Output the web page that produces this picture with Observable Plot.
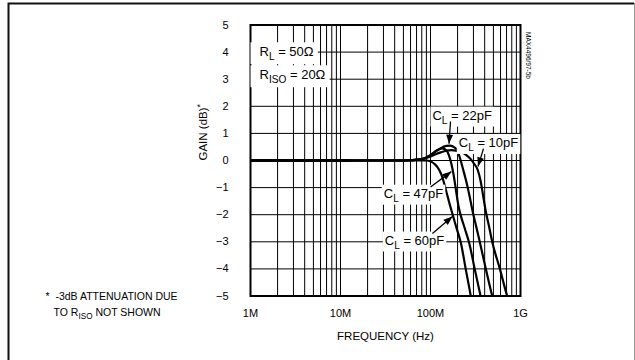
<!DOCTYPE html>
<html><head><meta charset="utf-8">
<script src="https://cdn.jsdelivr.net/npm/d3@7"></script>
<script src="https://cdn.jsdelivr.net/npm/@observablehq/plot@0.6"></script>
<style>
body{margin:0;background:#fff;}
svg{font-family:"Liberation Sans",Arial,Helvetica,sans-serif;}
</style></head><body><div id="chart"></div>
<script>
// ---- data (frequency in MHz, gain in dB) ----
const xTickValues = [1e6, 1e7, 1e8, 1e9];
const xTickLabels = ["1M", "10M", "100M", "1G"];
const yTickValues = [-5, -4, -3, -2, -1, 0, 1, 2, 3, 4, 5];

const curveNames = ["60pF", "47pF", "22pF", "10pF"];
const freq60 = [1, 12, 14, 50, 90, 113, 125, 135, 150, 163, 178, 197, 218, 246, 280, 300];
const gain60 = [-0.015, -0.015, 0, 0, 0, -0.15, -0.35, -0.6, -1.15, -1.6, -2.05, -2.55, -3.05, -4.0, -5.0, -5.6];
const freq47 = [1, 50, 80, 100, 118, 135, 150, 160, 170, 180, 192, 205, 220, 240, 267, 310, 360, 390];
const gain47 = [0, 0, 0.05, 0.2, 0.38, 0.45, 0.38, 0.2, -0.1, -0.5, -1.1, -1.7, -2.1, -2.5, -3.0, -4.0, -5.0, -5.5];
const freq22 = [1, 50, 80, 100, 125, 150, 165, 185, 200, 212, 225, 240, 256, 275, 295, 320, 350, 412, 485, 520];
const gain22 = [0, 0, 0.05, 0.2, 0.42, 0.54, 0.55, 0.48, 0.35, 0.1, -0.2, -0.55, -0.92, -1.4, -1.9, -2.4, -2.95, -4.0, -5.0, -5.4];
const freq10 = [1, 12, 14, 50, 80, 100, 130, 170, 215, 250, 280, 305, 335, 360, 380, 410, 445, 485, 590, 711, 760];
const gain10 = [0.015, 0.015, 0, 0, 0.05, 0.15, 0.3, 0.38, 0.32, 0.2, 0.05, -0.12, -0.35, -0.75, -1.2, -1.85, -2.4, -3.0, -4.0, -5.0, -5.3];

// annotations
const annoText = ["C_L = 22pF", "C_L = 10pF", "C_L = 47pF", "C_L = 60pF"];
const annoFreq = [225, 441, 64.7, 66.4];
const annoGain = [1.66, 0.65, -1.22, -2.95];
const arrowFromFreq = [166.8, 388, 100, 105];
const arrowFromGain = [1.44, 0.44, -0.98, -2.69];
const arrowToFreq = [160.6, 337, 170.6, 175.5];
const arrowToGain = [0.62, -0.22, -0.41, -2.07];

const condText = ["R_L = 50\u03A9", "R_ISO = 20\u03A9"];
const condGain = [4.0, 3.15];
const footText1 = ["*  -3dB ATTENUATION DUE"];
const footText2 = ["TO R_ISO NOT SHOWN"];
const xLabel = ["FREQUENCY (Hz)"];
const yLabel = ["GAIN (dB)^*"];
const figId = ["MAX4496/97-5b"];

// ---- build table ----
const rows = [];
[[freq60, gain60], [freq47, gain47], [freq22, gain22], [freq10, gain10]].forEach(([f, g], k) =>
  f.forEach((v, i) => rows.push({f: v * 1e6, g: g[i], c: curveNames[k]})));

const gridX = [];
for (const base of [1e6, 1e7, 1e8]) for (let k = 1; k <= 9; k++) gridX.push(base * k);
gridX.shift();
const gridY = [-4, -3, -2, -1, 0, 1, 2, 3, 4];
const idx = annoText.map((d, i) => i);

const chart = Plot.plot({
  width: 635, height: 360,
  marginLeft: 250, marginRight: 115, marginTop: 24.5, marginBottom: 64.5,
  x: {type: "log", domain: [1e6, 1e9]},
  y: {domain: [-5, 5]},
  style: {fontFamily: "Liberation Sans, Arial, sans-serif", background: "white", color: "black"},
  marks: [
    Plot.ruleX(gridX, {stroke: "#000", strokeWidth: 1}),
    Plot.ruleY(gridY, {stroke: "#000", strokeWidth: 1}),
    Plot.line(rows, {x: "f", y: "g", z: "c", stroke: "#000", strokeWidth: 2.2, curve: "monotone-x", clip: true}),
    Plot.frame({stroke: "#000", strokeWidth: 2}),
    Plot.axisX(xTickValues, {tickSize: 0, tickPadding: 13, fontSize: 11, tickFormat: d => xTickLabels[xTickValues.indexOf(d)], label: null}),
    Plot.axisY(yTickValues, {tickSize: 0, tickPadding: 22, fontSize: 11, label: null}),
    Plot.text(condText, {x: () => 1e6, y: (d, i) => condGain[i], text: d => d, textAnchor: "start", dx: 9, fontSize: 13, className: "boxedR"}),
    Plot.text(idx, {x: i => annoFreq[i] * 1e6, y: i => annoGain[i], text: i => annoText[i], fontSize: 13, className: "boxed"}),
    Plot.link(idx, {x1: i => arrowFromFreq[i] * 1e6, y1: i => arrowFromGain[i], x2: i => arrowToFreq[i] * 1e6, y2: i => arrowToGain[i], stroke: "#000", strokeWidth: 1.3, className: "annoarrow"}),
    Plot.text(xLabel, {frameAnchor: "bottom", dy: 43.5, text: d => d, fontSize: 11.5}),
    Plot.text(yLabel, {frameAnchor: "left", dx: -47, rotate: -90, text: d => d, fontSize: 11.5}),
    Plot.text(footText1, {frameAnchor: "bottom-left", dx: -205, dy: 3.5, text: d => d, textAnchor: "start", fontSize: 10.5}),
    Plot.text(footText2, {frameAnchor: "bottom-left", dx: -197, dy: 19.5, text: d => d, textAnchor: "start", fontSize: 10.5}),
    Plot.text(figId, {frameAnchor: "top-right", dx: 10, dy: 7, rotate: 90, textAnchor: "start", text: d => d, fontSize: 6.5})
  ]
});
document.getElementById("chart").appendChild(chart);

const NS = "http://www.w3.org/2000/svg";
// sub/superscripts
function applyRich(t) {
  const s = t.textContent;
  if (!/[_^]/.test(s)) return;
  const fsz = parseFloat(getComputedStyle(t).fontSize) || 12;
  const re = /([_^])([A-Za-z0-9]+|\*)/g;
  while (t.firstChild) t.removeChild(t.firstChild);
  let last = 0, m, shift = 0;
  const add = (str, dy, small) => {
    const ts = document.createElementNS(NS, "tspan");
    ts.textContent = str;
    if (dy) ts.setAttribute("dy", dy);
    if (small) ts.setAttribute("font-size", fsz * 0.78);
    t.appendChild(ts);
  };
  while ((m = re.exec(s))) {
    if (m.index > last) { add(s.slice(last, m.index), -shift, false); shift = 0; }
    const off = m[1] === "_" ? fsz * 0.3 : -fsz * 0.4;
    add(m[2], off - shift, true); shift = off;
    last = re.lastIndex;
  }
  if (last < s.length) add(s.slice(last), -shift, false);
}
chart.querySelectorAll("text").forEach(applyRich);

// white boxes behind labels
function boxes(sel, padL, padR, padT, padB) {
  chart.querySelectorAll(sel).forEach(g => {
    const texts = Array.from(g.querySelectorAll("text"));
    texts.forEach(t => {
      const bb = t.getBBox();
      const r = document.createElementNS(NS, "rect");
      r.setAttribute("x", bb.x - padL);
      r.setAttribute("y", bb.y - padT);
      r.setAttribute("width", bb.width + padL + padR);
      r.setAttribute("height", bb.height + padT + padB);
      r.setAttribute("fill", "white");
      r.setAttribute("stroke", "none");
      if (t.getAttribute("transform")) r.setAttribute("transform", t.getAttribute("transform"));
      g.insertBefore(r, g.firstChild);
    });
  });
}
boxes("g.boxed", 2, 2, 1, 1);
boxes("g.boxedR", 9, 4, 2, 2);

// arrowheads
const defs = document.createElementNS(NS, "defs");
defs.innerHTML = '<marker id="ah" viewBox="0 0 10 10" refX="10" refY="5" markerWidth="11" markerHeight="9" markerUnits="userSpaceOnUse" orient="auto"><path d="M0,1.2L10,5L0,8.8z" fill="black"/></marker>';
chart.insertBefore(defs, chart.firstChild);
chart.querySelectorAll("g.annoarrow path").forEach(p => p.setAttribute("marker-end", "url(#ah)"));

// outer border
const border = document.createElementNS(NS, "g");
border.innerHTML = '<path d="M8.5,360V3.5H634" fill="none" stroke="#111" stroke-width="2"/><path d="M634.5,3V360" fill="none" stroke="#999" stroke-width="1"/>';
chart.appendChild(border);
</script>
</body></html>
